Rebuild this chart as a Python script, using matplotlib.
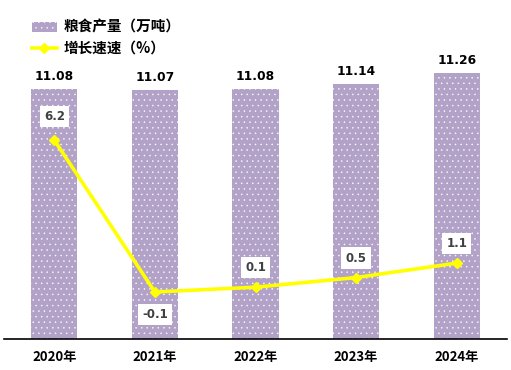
import matplotlib
matplotlib.use("Agg")
import matplotlib.pyplot as plt
from matplotlib.lines import Line2D
from matplotlib.patches import Patch

plt.rcParams['font.family'] = ['Noto Sans CJK SC', 'DejaVu Sans']
plt.rcParams['hatch.color'] = 'white'
plt.rcParams['hatch.linewidth'] = 0.3

years = ["2020年", "2021年", "2022年", "2023年", "2024年"]
output = [11.08, 11.07, 11.08, 11.14, 11.26]
growth = [6.2, -0.1, 0.1, 0.5, 1.1]
bar_label = "粮食产量（万吨）"
line_label = "增长速速（%）"

W, H = 511, 370
fig = plt.figure(figsize=(W / 100, H / 100), dpi=100)
left, right, bottom, top = 4, 507, 339, 20
ax = fig.add_axes([left / W, 1 - bottom / H, (right - left) / W, (bottom - top) / H])
ax2 = ax.twinx()

x = list(range(len(years)))
bar_color = "#b2a2c7"
hatch = "..."
bars = ax.bar(x, output, width=0.46, color=bar_color, edgecolor="white",
              linewidth=0, hatch=hatch, zorder=2)
ax.set_xlim(-0.5, len(years) - 0.5)
ymin = 8.268
ax.set_ylim(ymin, ymin + (bottom - top) / 88.9)
for xi, v in zip(x, output):
    ax.annotate(f"{v:.2f}", (xi, v), xytext=(0, 4), textcoords="offset points",
                ha="center", va="bottom", fontsize=8.8, fontweight="bold",
                color="black", family="DejaVu Sans")

y2min = -2.05
ax2.set_ylim(y2min, y2min + (bottom - top) / 24.1)
ax2.plot(x, growth, color="#ffff00", linewidth=2.6, marker="D", markersize=5.5, zorder=3)
offsets = [17, -16, 14, 14, 14]
for xi, v, off in zip(x, growth, offsets):
    ax2.annotate(f"{v:.1f}", (xi, v), xytext=(0, off), textcoords="offset points",
                 ha="center", va="center", fontsize=8.5, fontweight="bold",
                 color="#404040", family="DejaVu Sans",
                 bbox=dict(boxstyle="square,pad=0.35", fc="white", ec="none"))

for a in (ax, ax2):
    for s in ("left", "right", "top"):
        a.spines[s].set_visible(False)
    a.set_yticks([])
ax.spines["bottom"].set_color("black")
ax.spines["bottom"].set_linewidth(1.2)
ax2.spines["bottom"].set_visible(False)
ax.set_xticks(x)
ax.set_xticklabels(years, fontsize=9.5, fontweight="bold")
ax.tick_params(axis="x", length=0, pad=8)

handles = [Patch(facecolor=bar_color, edgecolor="white", hatch=hatch, linewidth=0),
           Line2D([0], [0], color="#ffff00", linewidth=2.6, marker="D", markersize=5.5)]
fig.legend(handles, [bar_label, line_label], loc="upper left",
           bbox_to_anchor=(26 / W, 1 - 13 / H), frameon=False,
           prop=dict(size=10.5, weight="bold"), handlelength=1.7,
           labelspacing=0.35, handletextpad=0.45, borderaxespad=0)

fig.savefig("out.png", dpi=100)
